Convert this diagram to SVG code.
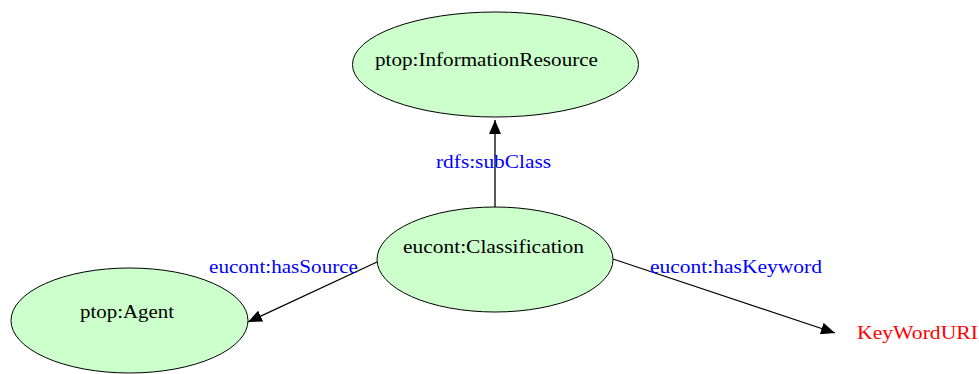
<svg xmlns="http://www.w3.org/2000/svg" width="979" height="374" viewBox="0 0 979 374">
  <style>
    .node ellipse { fill: #ccffcc; stroke: #000; stroke-width: 1; }
    .node text { font-family: "Liberation Serif", "Times New Roman", serif; font-size: 18px; fill: #000; }
    .edge line { stroke: #000; stroke-width: 1.3; }
    .elabel { font-family: "Liberation Serif", "Times New Roman", serif; font-size: 18px; fill: #0000ff; }
    .literal { font-family: "Liberation Serif", "Times New Roman", serif; font-size: 18px; fill: #ff0000; }
  </style>
  <defs>
    <marker id="arrow" viewBox="0 0 10 10" refX="10" refY="5" markerWidth="10" markerHeight="10" markerUnits="userSpaceOnUse" orient="auto">
      <path d="M0,0 L10,5 L0,10 z" fill="#000"/>
    </marker>
    <marker id="arrowL" viewBox="0 0 14 12" refX="14" refY="6" markerWidth="14" markerHeight="12" markerUnits="userSpaceOnUse" orient="auto">
      <path d="M0,0 L14,6 L0,12 z" fill="#000"/>
    </marker>
  </defs>

  <rect width="979" height="374" fill="#fff"/>

  <g id="connectors" class="edge">
    <line x1="495" y1="207" x2="495" y2="120" marker-end="url(#arrowL)"/>
    <line x1="377" y1="262" x2="248" y2="322" marker-end="url(#arrowL)"/>
    <line x1="613" y1="259" x2="835" y2="333" marker-end="url(#arrowL)"/>
    <text class="elabel" x="436" y="168" textLength="115" lengthAdjust="spacingAndGlyphs">rdfs:subClass</text>
    <text class="elabel" x="209" y="273" textLength="149" lengthAdjust="spacingAndGlyphs">eucont:hasSource</text>
    <text class="elabel" x="650" y="273" textLength="172" lengthAdjust="spacingAndGlyphs">eucont:hasKeyword</text>
  </g>

  <g id="node-information-resource" class="node">
    <ellipse cx="495.5" cy="64.5" rx="143" ry="52.5"/>
    <text x="375" y="66" textLength="223" lengthAdjust="spacingAndGlyphs">ptop:InformationResource</text>
  </g>

  <g id="node-classification" class="node">
    <ellipse cx="495" cy="259.5" rx="118" ry="52.5"/>
    <text x="403" y="253" textLength="181" lengthAdjust="spacingAndGlyphs">eucont:Classification</text>
  </g>

  <g id="node-agent" class="node">
    <ellipse cx="129.5" cy="320.5" rx="118.5" ry="52.5"/>
    <text x="80" y="318" textLength="94" lengthAdjust="spacingAndGlyphs">ptop:Agent</text>
  </g>

  <g id="node-keyword-uri">
    <text class="literal" x="857" y="339" textLength="121" lengthAdjust="spacingAndGlyphs">KeyWordURI</text>
  </g>
</svg>
